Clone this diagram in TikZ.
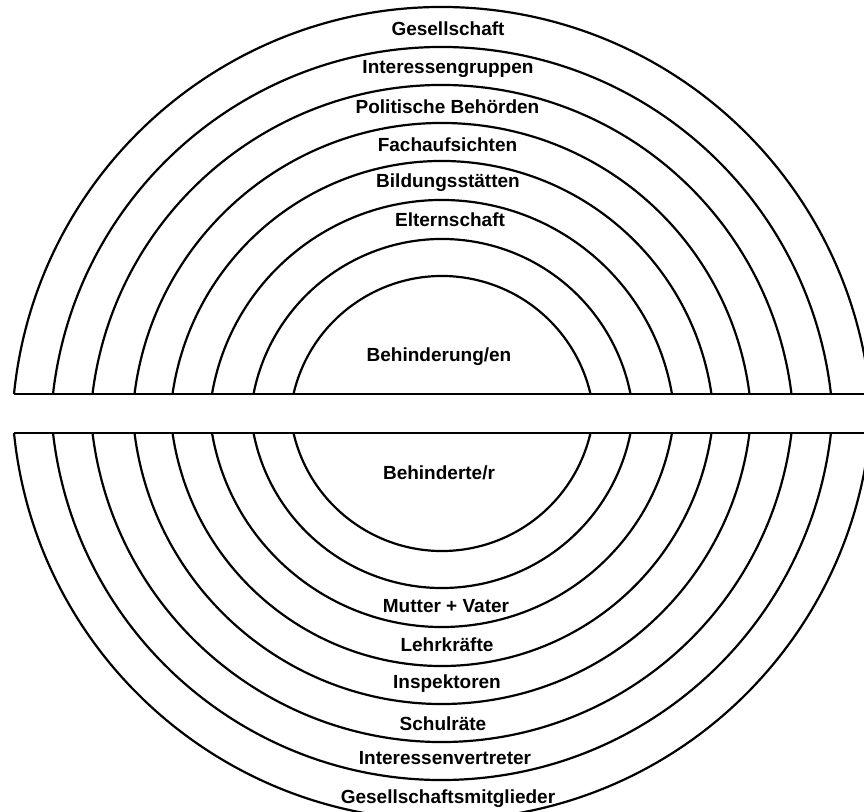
\documentclass[tikz,border=0pt]{standalone}
\usepackage{fontspec}
\setmainfont{Liberation Sans}
\begin{document}
\begin{tikzpicture}[x=1pt,y=1pt,
  ring/.style={line width=2.2pt,black},
  lbl/.style={anchor=base,inner sep=0pt,font=\bfseries\fontsize{19}{22}\selectfont}]
\useasboundingbox (0,0) rectangle (864,811);
\fill[white] (0,0) rectangle (864,811);
\begin{scope}
\clip (0,0) rectangle (864,811);
% upper and lower separating lines
\coordinate (ul) at (14,417);
\coordinate (ur) at (870,417);
\coordinate (ll) at (14,378);
\coordinate (lr) at (870,378);
\draw[ring] (ul) -- (ur);
\draw[ring] (ll) -- (lr);
% arcs: half-width h and centre offset d
\foreach \h/\d in {428/43.17, 389/44.54, 349.5/43.15, 307.5/38.96, 269.5/39.36, 230/39.34, 188.5/37.12, 148.5/34.44}{
  \pgfmathsetmacro{\a}{atan(\d/\h)}
  \pgfmathsetmacro{\R}{veclen(\h,\d)}
  \draw[ring] (442-\h,417) arc[start angle=180-\a, end angle=\a, radius=\R];
  \draw[ring] (442-\h,378) arc[start angle=180+\a, end angle=360-\a, radius=\R];
}
\end{scope}
% upper labels
\node[lbl] (u1) at (448,775) {Gesellschaft};
\node[lbl] (u2) at (448,737) {Interessengruppen};
\node[lbl] (u3) at (447.5,697) {Politische Behörden};
\node[lbl] (u4) at (447.5,659) {Fachaufsichten};
\node[lbl] (u5) at (448,623) {Bildungsstätten};
\node[lbl] (u6) at (450,584) {Elternschaft};
\node[lbl] (u0) at (439,449) {Behinderung/en};
% lower labels
\node[lbl] (l0) at (439,331) {Behinderte/r};
\node[lbl] (l6) at (446,198) {Mutter + Vater};
\node[lbl] (l5) at (447,159) {Lehrkräfte};
\node[lbl] (l4) at (447,122) {Inspektoren};
\node[lbl] (l3) at (443,81) {Schulräte};
\node[lbl] (l2) at (445,47) {Interessenvertreter};
\node[lbl] (l1) at (448,8) {Gesellschaftsmitglieder};
\end{tikzpicture}
\end{document}
